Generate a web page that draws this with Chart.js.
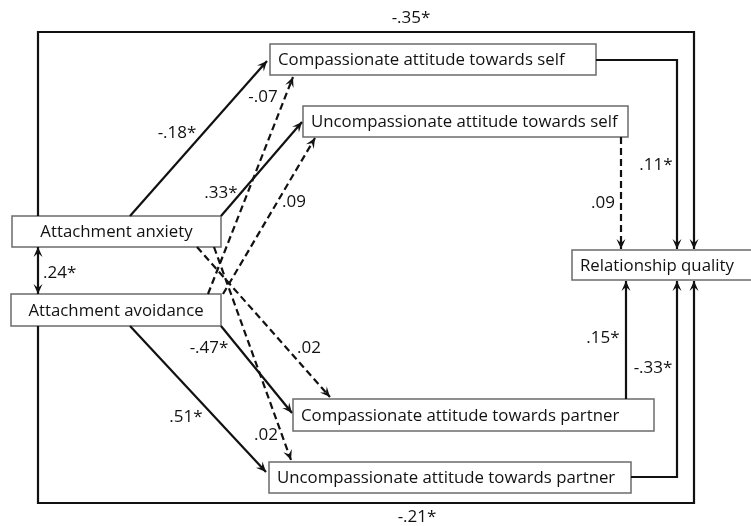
<!DOCTYPE html>
<html>
<head>
<meta charset="utf-8">
<script src="https://cdn.jsdelivr.net/npm/chart.js@4"></script>
<style>
  html, body { margin: 0; padding: 0; background: #fff; }
  canvas { display: block; }
</style>
</head>
<body>
<canvas id="pathChart" width="751" height="526" style="width:751px;height:526px"></canvas>
<script>
// Variables in the model
const nodeNames = [
    'Attachment anxiety',
    'Attachment avoidance',
    'Compassionate attitude towards self',
    'Uncompassionate attitude towards self',
    'Compassionate attitude towards partner',
    'Uncompassionate attitude towards partner',
    'Relationship quality'
];

// Paths: from -> to, standardized coefficient, significance
const pathFrom = [0, 0, 1, 1, 0, 0, 1, 1, 0, 1, 2, 3, 4, 5, 0];
const pathTo = [2, 3, 2, 3, 4, 5, 4, 5, 6, 6, 6, 6, 6, 6, 1];
const coefficients = ['-.18*', '.33*', '-.07', '.09', '.02', '.02', '-.47*', '.51*',
                      '-.35*', '-.21*', '.11*', '.09', '.15*', '-.33*', '.24*'];
const significant = [true, true, false, false, false, false, true, true,
                     true, true, true, false, true, true, true];

// Layout (diagram units = pixels of the original figure)
const boxes = [
    { x0: 12, x1: 221, y0: 216, y1: 247, centered: true },
    { x0: 11, x1: 221, y0: 294, y1: 326, centered: true },
    { x0: 270, x1: 596, y0: 44, y1: 75 },
    { x0: 303, x1: 628, y0: 106, y1: 137 },
    { x0: 293, x1: 654, y0: 399, y1: 431 },
    { x0: 269, x1: 631, y0: 462, y1: 493 },
    { x0: 572, x1: 756, y0: 250, y1: 280 }
];
const routes = [
    [[130, 216], [267, 61]],
    [[221, 216], [302, 122]],
    [[208, 294], [293, 77]],
    [[223, 294], [315, 138]],
    [[197, 247], [330, 397]],
    [[214, 247], [291, 460]],
    [[221, 326], [292, 413]],
    [[130, 326], [266, 472]],
    [[38, 216], [38, 32], [694, 32], [694, 249]],
    [[38, 326], [38, 503], [694, 503], [694, 281]],
    [[596, 60], [677, 60], [677, 249]],
    [[621, 137], [621, 249]],
    [[626, 399], [626, 281]],
    [[631, 477], [677, 477], [677, 281]],
    [[38, 247], [38, 294]]
];
const labelPos = [
    [177, 133, 'center'], [221, 193, 'center'], [263, 97, 'center'], [294, 202, 'center'],
    [309, 348, 'center'], [266, 435, 'center'], [209, 348, 'center'], [186, 417, 'center'],
    [411, 18, 'center'], [417, 517, 'center'], [656, 165, 'center'], [603, 203, 'center'],
    [603, 338, 'center'], [653, 368, 'center'], [43, 273, 'left']
];
const bothEnds = pathFrom.map((f, i) => i === 14);

const FONT = "'Open Sans', 'DejaVu Sans', sans-serif";
const INK = '#111';

const datasets = routes.map((route, i) => ({
    label: nodeNames[pathFrom[i]] + ' -> ' + nodeNames[pathTo[i]],
    data: route.map(p => ({ x: p[0], y: p[1] })),
    showLine: true,
    borderColor: INK,
    borderWidth: 2.2,
    borderDash: significant[i] ? [] : [7, 4],
    pointRadius: 0,
    tension: 0,
    clip: false
}));

function arrowHead(ctx, tip, from) {
    const ang = Math.atan2(tip.y - from.y, tip.x - from.x);
    const len = 10, half = 4.5;
    ctx.save();
    ctx.translate(tip.x, tip.y);
    ctx.rotate(ang);
    ctx.beginPath();
    ctx.moveTo(0, 0);
    ctx.lineTo(-len, -half);
    ctx.lineTo(-len * 0.6, 0);
    ctx.lineTo(-len, half);
    ctx.closePath();
    ctx.fillStyle = INK;
    ctx.fill();
    ctx.restore();
}

const diagramPlugin = {
    id: 'diagram',
    beforeDatasetsDraw(chart) {
        const { ctx, scales: { x, y } } = chart;
        ctx.save();
        boxes.forEach((b, i) => {
            const px0 = x.getPixelForValue(b.x0), px1 = x.getPixelForValue(b.x1);
            const py0 = y.getPixelForValue(b.y0), py1 = y.getPixelForValue(b.y1);
            ctx.fillStyle = '#fff';
            ctx.fillRect(px0, py0, px1 - px0, py1 - py0);
            ctx.strokeStyle = '#6b6b6b';
            ctx.lineWidth = 1.5;
            ctx.strokeRect(px0, py0, px1 - px0, py1 - py0);
            ctx.fillStyle = INK;
            ctx.font = '16.8px ' + FONT;
            ctx.textBaseline = 'middle';
            if (b.centered) {
                ctx.textAlign = 'center';
                ctx.fillText(nodeNames[i], (px0 + px1) / 2, (py0 + py1) / 2 + 1);
            } else {
                ctx.textAlign = 'left';
                ctx.fillText(nodeNames[i], px0 + 8, (py0 + py1) / 2 + 1);
            }
        });
        ctx.restore();
    },
    afterDatasetsDraw(chart) {
        const { ctx, scales: { x, y } } = chart;
        const pt = p => ({ x: x.getPixelForValue(p[0]), y: y.getPixelForValue(p[1]) });
        ctx.save();
        routes.forEach((route, i) => {
            const n = route.length;
            arrowHead(ctx, pt(route[n - 1]), pt(route[n - 2]));
            if (bothEnds[i]) arrowHead(ctx, pt(route[0]), pt(route[1]));
        });
        ctx.fillStyle = INK;
        ctx.font = '17px ' + FONT;
        ctx.textBaseline = 'middle';
        labelPos.forEach((l, i) => {
            const p = pt(l);
            ctx.textAlign = l[2];
            ctx.fillText(coefficients[i], p.x, p.y);
        });
        ctx.restore();
    }
};

new Chart(document.getElementById('pathChart').getContext('2d'), {
    type: 'scatter',
    data: { datasets },
    options: {
        responsive: false,
        animation: false,
        layout: { padding: 0 },
        plugins: { legend: { display: false }, tooltip: { enabled: false } },
        scales: {
            x: { type: 'linear', min: 0, max: 751, display: false },
            y: { type: 'linear', min: 0, max: 526, reverse: true, display: false }
        }
    },
    plugins: [diagramPlugin]
});
</script>
</body>
</html>
